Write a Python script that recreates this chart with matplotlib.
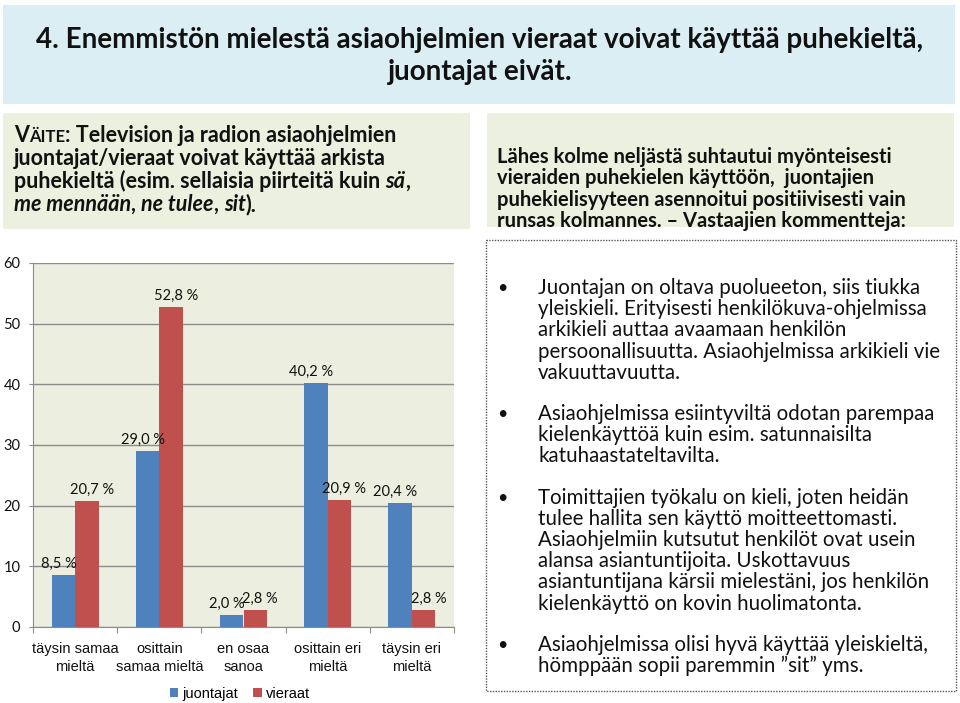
import matplotlib.pyplot as plt
from matplotlib.patches import Rectangle

# chart data
categories = ['täysin samaa\nmieltä', 'osittain\nsamaa mieltä', 'en osaa\nsanoa',
              'osittain eri\nmieltä', 'täysin eri\nmieltä']
juontajat = [8.5, 29.0, 2.0, 40.2, 20.4]
vieraat = [20.7, 52.8, 2.8, 20.9, 2.8]
series_names = ['juontajat', 'vieraat']
yticks = [0, 10, 20, 30, 40, 50, 60]

title_lines = ['4. Enemmistön mielestä asiaohjelmien vieraat voivat käyttää puhekieltä,',
               'juontajat eivät.']
summary_lines = ['Lähes kolme neljästä suhtautui myönteisesti',
                 'vieraiden puhekielen käyttöön,  juontajien',
                 'puhekielisyyteen asennoitui positiivisesti vain',
                 'runsas kolmannes. – Vastaajien kommentteja:']
comments = [
    ['Juontajan on oltava puolueeton, siis tiukka',
     'yleiskieli. Erityisesti henkilökuva-ohjelmissa',
     'arkikieli auttaa avaamaan henkilön',
     'persoonallisuutta. Asiaohjelmissa arkikieli vie',
     'vakuuttavuutta.'],
    ['Asiaohjelmissa esiintyviltä odotan parempaa',
     'kielenkäyttöä kuin esim. satunnaisilta',
     'katuhaastateltavilta.'],
    ['Toimittajien työkalu on kieli, joten heidän',
     'tulee hallita sen käyttö moitteettomasti.',
     'Asiaohjelmiin kutsutut henkilöt ovat usein',
     'alansa asiantuntijoita. Uskottavuus',
     'asiantuntijana kärsii mielestäni, jos henkilön',
     'kielenkäyttö on kovin huolimatonta.'],
    ['Asiaohjelmissa olisi hyvä käyttää yleiskieltä,',
     'hömppään sopii paremmin ”sit” yms.'],
]
# statement lines: (text, style) segments
claim_lines = [
    [('V', 'b'), ('ÄITE', 'sc'), (': Television ja radion asiaohjelmien', 'b')],
    [('juontajat/vieraat voivat käyttää arkista', 'b')],
    [('puhekieltä (esim. sellaisia piirteitä kuin ', 'b'), ('sä', 'bi'), (',', 'b')],
    [('me mennään', 'bi'), (', ', 'b'), ('ne tulee', 'bi'), (', ', 'b'), ('sit', 'bi'), (').', 'b')],
]

body_font = ['Lato', 'DejaVu Sans']
chart_font = ['Liberation Sans', 'DejaVu Sans']
blue = '#4f81bd'
red = '#c0504d'
grid_c = '#8c8c8c'

fig = plt.figure(figsize=(9.6, 7.03), dpi=100)

# overlay in pixel coordinates for boxes and texts
ov = fig.add_axes([0, 0, 1, 1])
ov.set_xlim(0, 960)
ov.set_ylim(703, 0)
ov.axis('off')
ov.set_zorder(0)

ov.add_patch(Rectangle((3, 5), 952, 99, facecolor='#dbeef4', edgecolor='none'))
ov.add_patch(Rectangle((3, 113), 467, 116, facecolor='#ebf1de', edgecolor='none'))
ov.add_patch(Rectangle((487, 113), 467, 114, facecolor='#ebf1de', edgecolor='none'))
ov.add_patch(Rectangle((486, 240), 470, 451, facecolor='white', edgecolor='#555555',
                       linestyle=(0, (1, 1)), linewidth=1))

for i, line in enumerate(title_lines):
    ov.text(480, 40 + i * 32, line, ha='center', va='center', fontsize=20,
            fontweight='bold', family=body_font, color='#111111')

# claim box with small caps and italics
for i, segs in enumerate(claim_lines):
    yb = 142 + i * 23
    prev = None
    for text, style in segs:
        kw = dict(fontsize=15.5, fontweight='bold', family=body_font, color='#111111',
                  va='baseline', ha='left')
        if style == 'sc':
            kw['fontsize'] = 12
        if style == 'bi':
            kw['fontstyle'] = 'italic'
        if prev is None:
            prev = ov.text(14, yb, text, **kw)
        else:
            prev = ov.annotate(text, xy=(1, yb), xycoords=(prev, 'data'), **kw)

for i, line in enumerate(summary_lines):
    ov.text(497, 157 + i * 21.3, line, ha='left', va='center', fontsize=14.5,
            fontweight='bold', family=body_font, color='#111111')

y = 288
for para in comments:
    ov.text(502, y, '•', ha='center', va='center', fontsize=13, family=body_font,
            color='#111111')
    for line in para:
        ov.text(538, y, line, ha='left', va='center', fontsize=14.8, family=body_font,
                color='#111111')
        y += 21.2
    y += 20

# chart
ax = fig.add_axes([33 / 960, 1 - 627 / 703, 421 / 960, 364 / 703])
ax.set_zorder(1)
ax.set_facecolor('#ecefdf')
x = list(range(len(categories)))
w = 0.28
b1 = ax.bar([i - w / 2 for i in x], juontajat, w, color=blue, label=series_names[0], zorder=3)
b2 = ax.bar([i + w / 2 for i in x], vieraat, w, color=red, label=series_names[1], zorder=3)
for bars, vals, dx in ((b1, juontajat, -3.5), (b2, vieraat, 3.5)):
    for bar, v in zip(bars, vals):
        ax.annotate(f'{v:.1f} %'.replace('.', ','),
                    (bar.get_x() + bar.get_width() / 2, bar.get_height()),
                    xytext=(dx, 3), textcoords='offset points', ha='center', va='bottom',
                    fontsize=10.5, family=body_font, color='#111111')

ax.set_xlim(-0.5, len(categories) - 0.5)
ax.set_ylim(0, 60)
ax.set_yticks(yticks)
ax.yaxis.grid(True, color=grid_c, linewidth=1)
ax.set_axisbelow(True)
for s in ('top', 'right'):
    ax.spines[s].set_visible(False)
for s in ('left', 'bottom'):
    ax.spines[s].set_color(grid_c)
ax.set_xticks([i - 0.5 for i in range(len(categories) + 1)])
ax.set_xticklabels([])
ax.set_xticks(x, minor=True)
ax.set_xticklabels(categories, minor=True, fontsize=10.5, family=chart_font, color='#111111',
                   linespacing=1.3)
ax.tick_params(axis='x', which='major', length=4, color=grid_c)
ax.tick_params(axis='x', which='minor', length=0, pad=11)
ax.tick_params(axis='y', length=3, color=grid_c, pad=6, labelsize=10.5, labelcolor='#111111')
for lab in ax.get_yticklabels():
    lab.set_family(body_font)

fig.legend(handles=[b1, b2], labels=series_names, loc='center',
           bbox_to_anchor=(240 / 960, 1 - 694 / 703), ncol=2, frameon=False,
           handlelength=0.6, handleheight=0.6, handletextpad=0.3, columnspacing=1.0,
           prop={'family': chart_font, 'size': 10.5})

fig.savefig('out.png', dpi=100)
